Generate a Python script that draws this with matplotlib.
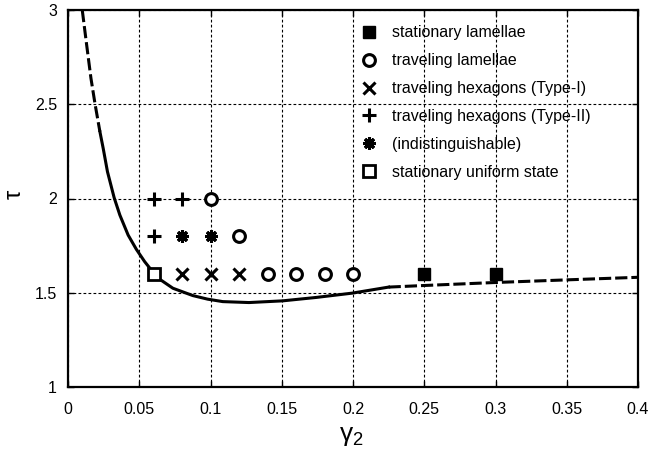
import matplotlib
matplotlib.use('Agg')
import matplotlib.pyplot as plt

plt.rcParams['font.family'] = ['Liberation Sans', 'DejaVu Sans']
plt.rcParams['mathtext.fontset'] = 'custom'
plt.rcParams['mathtext.rm'] = 'Liberation Sans'
plt.rcParams['mathtext.it'] = 'Liberation Sans'

# neutral curve (dashed / solid / dashed)
upper_g = [0.0100, 0.0131, 0.0161, 0.0189, 0.0224]
upper_t = [3.0, 2.814, 2.638, 2.505, 2.354]
solid_g = [0.0224, 0.0247, 0.0277, 0.0324, 0.0364, 0.0422, 0.048, 0.0538, 0.06,
           0.0643, 0.0736, 0.0876, 0.098, 0.1086, 0.127, 0.1506, 0.174, 0.1995, 0.225]
solid_t = [2.354, 2.266, 2.142, 2.004, 1.912, 1.806, 1.73, 1.665, 1.606,
           1.572, 1.524, 1.485, 1.466, 1.453, 1.448, 1.457, 1.475, 1.498, 1.530]
lower_g = [0.225, 0.2485, 0.2986, 0.3487, 0.4]
lower_t = [1.530, 1.538, 1.554, 1.568, 1.582]

# simulation points
stat_lam_g = [0.25, 0.3]
stat_lam_t = [1.6, 1.6]
trav_lam_g = [0.1, 0.12, 0.14, 0.16, 0.18, 0.2]
trav_lam_t = [2.0, 1.8, 1.6, 1.6, 1.6, 1.6]
hex1_g = [0.08, 0.1, 0.12]
hex1_t = [1.6, 1.6, 1.6]
hex2_g = [0.06, 0.08, 0.06]
hex2_t = [2.0, 2.0, 1.8]
indist_g = [0.08, 0.1]
indist_t = [1.8, 1.8]
uniform_g = [0.06]
uniform_t = [1.6]

xticks = [0, 0.05, 0.1, 0.15, 0.2, 0.25, 0.3, 0.35, 0.4]
xlabels = ['0', '0.05', '0.1', '0.15', '0.2', '0.25', '0.3', '0.35', '0.4']
yticks = [1, 1.5, 2, 2.5, 3]
ylabels = ['1', '1.5', '2', '2.5', '3']

fig = plt.figure(figsize=(6.49, 4.51), dpi=100)
ax = fig.add_axes([68/649, 1 - 387/451, 570/649, 377/451])

dash = (0, (4, 1.3))
ax.plot(upper_g, upper_t, color='black', lw=2.2, ls=dash)
ax.plot(solid_g, solid_t, color='black', lw=2.2)
ax.plot(lower_g, lower_t, color='black', lw=2.2, ls=dash)

ax.plot(stat_lam_g, stat_lam_t, ls='none', marker='s', ms=9, color='black',
        label='stationary lamellae')
ax.plot(trav_lam_g, trav_lam_t, ls='none', marker='o', ms=8.5, mfc='white',
        mec='black', mew=2.2, label='traveling lamellae')
ax.plot(hex1_g, hex1_t, ls='none', marker='x', ms=8, mec='black', mew=2.2,
        label='traveling hexagons (Type-I)')
ax.plot(hex2_g, hex2_t, ls='none', marker='+', ms=10, mec='black', mew=2.2,
        label='traveling hexagons (Type-II)')
ax.plot(indist_g, indist_t, ls='none', marker=(8, 2, 0), ms=9, mec='black', mew=2.2,
        label='(indistinguishable)')
ax.plot(uniform_g, uniform_t, ls='none', marker='s', ms=9, mfc='white',
        mec='black', mew=2.0, label='stationary uniform state')

ax.set_xlim(0, 0.4)
ax.set_ylim(1, 3)
ax.set_xticks(xticks)
ax.set_xticklabels(xlabels)
ax.set_yticks(yticks)
ax.set_yticklabels(ylabels)
ax.tick_params(direction='in', length=4, width=1, labelsize=11.5,
               top=True, right=True)
ax.tick_params(axis='x', pad=11)
ax.tick_params(axis='y', pad=8)
ax.grid(True, color='black', lw=0.8, ls=(0, (2.5, 2)))
for s in ax.spines.values():
    s.set_linewidth(1.6)

ax.set_xlabel(r'$\gamma_2$', fontsize=19)
ax.xaxis.set_label_coords(0.4965, -0.097)
ax.set_ylabel(r'$\tau$', fontsize=17)
ax.yaxis.set_label_coords(-0.074, 0.51)

ax.legend(loc='upper left', bbox_to_anchor=(0.497, 0.985), frameon=False,
          fontsize=11.5, handlelength=1.0, handletextpad=0.94,
          labelspacing=0.81, borderaxespad=0.2)

fig.savefig('out.png', dpi=100)
